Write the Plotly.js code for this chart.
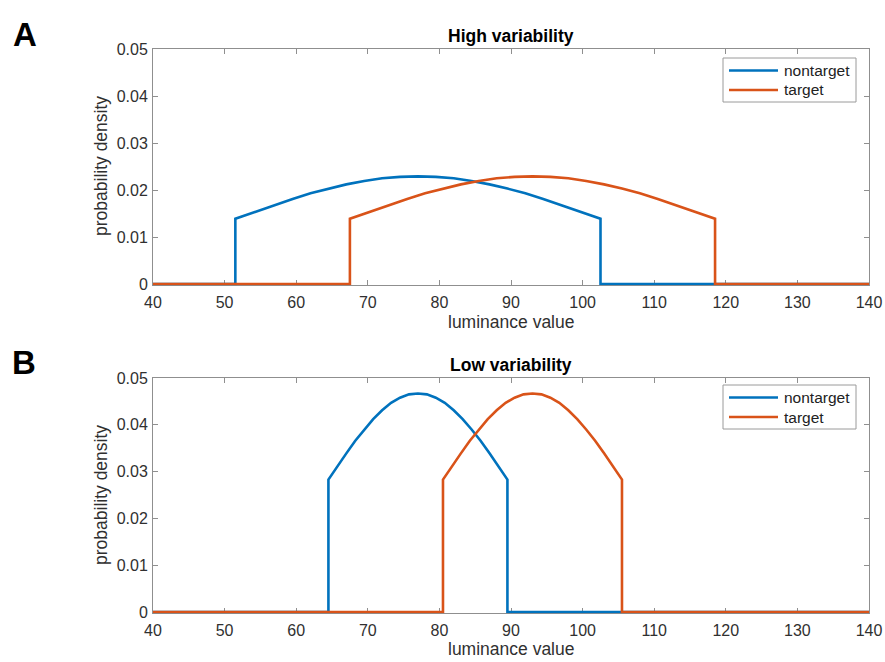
<!DOCTYPE html>
<html>
<head>
<meta charset="utf-8">
<script src="https://cdn.plot.ly/plotly-3.0.1.min.js"></script>
<style>html,body{margin:0;padding:0;background:#fff;}#chart{width:885px;height:662px;}</style>
</head>
<body>
<div id="chart"></div>
<script>
// Panel A: High variability
const hiNontargetX = [40, 51.5, 51.5, 54.5, 57, 59.5, 62, 64.5, 67, 69.5, 72, 74.5, 77, 79.5, 82, 84.5, 87, 89.5, 92, 94.5, 97, 99.5, 102.5, 102.5, 140];
const hiNontargetY = [0, 0, 0.0139, 0.0155, 0.0168, 0.0181, 0.0193, 0.0203, 0.0212, 0.0219, 0.0225, 0.0228, 0.0229, 0.0228, 0.0225, 0.0219, 0.0212, 0.0203, 0.0193, 0.0181, 0.0168, 0.0155, 0.0139, 0, 0];
const hiTargetX = [40, 67.5, 67.5, 70.5, 73, 75.5, 78, 80.5, 83, 85.5, 88, 90.5, 93, 95.5, 98, 100.5, 103, 105.5, 108, 110.5, 113, 115.5, 118.5, 118.5, 140];
const hiTargetY = [0, 0, 0.0139, 0.0155, 0.0168, 0.0181, 0.0193, 0.0203, 0.0212, 0.0219, 0.0225, 0.0228, 0.0229, 0.0228, 0.0225, 0.0219, 0.0212, 0.0203, 0.0193, 0.0181, 0.0168, 0.0155, 0.0139, 0, 0];
// Panel B: Low variability
const loNontargetX = [40, 64.5, 64.5, 65.75, 67, 68.25, 69.5, 70.75, 72, 73.25, 74.5, 75.75, 77, 78.25, 79.5, 80.75, 82, 83.25, 84.5, 85.75, 87, 88.25, 89.5, 89.5, 140];
const loNontargetY = [0, 0, 0.0283, 0.0312, 0.0339, 0.0366, 0.0390, 0.0412, 0.0431, 0.0447, 0.0458, 0.0465, 0.0467, 0.0465, 0.0458, 0.0447, 0.0431, 0.0412, 0.0390, 0.0366, 0.0339, 0.0312, 0.0283, 0, 0];
const loTargetX = [40, 80.5, 80.5, 81.75, 83, 84.25, 85.5, 86.75, 88, 89.25, 90.5, 91.75, 93, 94.25, 95.5, 96.75, 98, 99.25, 100.5, 101.75, 103, 104.25, 105.5, 105.5, 140];
const loTargetY = [0, 0, 0.0283, 0.0312, 0.0339, 0.0366, 0.0390, 0.0412, 0.0431, 0.0447, 0.0458, 0.0465, 0.0467, 0.0465, 0.0458, 0.0447, 0.0431, 0.0412, 0.0390, 0.0366, 0.0339, 0.0312, 0.0283, 0, 0];

const seriesNames = ['nontarget', 'target'];
const panelTitles = ['High variability', 'Low variability'];
const panelLetters = ['A', 'B'];
const xTickVals = [40, 50, 60, 70, 80, 90, 100, 110, 120, 130, 140];
const yTickVals = [0, 0.01, 0.02, 0.03, 0.04, 0.05];
const yTickText = ['0', '0.01', '0.02', '0.03', '0.04', '0.05'];
const xTitle = 'luminance value';
const yTitle = 'probability density';

const BLUE = '#0072BD', ORANGE = '#D95319';
const COLORS = [BLUE, ORANGE];
const FONT = 'Liberation Sans, Arial, sans-serif';
const W = 885, H = 662;
const px = v => v / W;
const py = v => 1 - v / H;

const traces = [
  {x: hiNontargetX, y: hiNontargetY, name: seriesNames[0], xaxis: 'x', yaxis: 'y', line: {color: BLUE, width: 2.6}},
  {x: hiTargetX, y: hiTargetY, name: seriesNames[1], xaxis: 'x', yaxis: 'y', line: {color: ORANGE, width: 2.6}},
  {x: loNontargetX, y: loNontargetY, name: seriesNames[0], xaxis: 'x2', yaxis: 'y2', line: {color: BLUE, width: 2.6}},
  {x: loTargetX, y: loTargetY, name: seriesNames[1], xaxis: 'x2', yaxis: 'y2', line: {color: ORANGE, width: 2.6}}
].map(t => Object.assign({type: 'scatter', mode: 'lines', showlegend: false}, t));

const axCommon = {
  showline: true, linecolor: '#8f8f8f', linewidth: 1, mirror: 'ticks',
  ticks: 'inside', ticklen: 5, tickcolor: '#8f8f8f', tickwidth: 1,
  showgrid: false, zeroline: false, automargin: false,
  tickfont: {family: FONT, size: 16, color: '#303030'}, layer: 'below traces'
};
const xAx = (dom, anchor) => Object.assign({}, axCommon, {domain: dom, anchor: anchor, range: [40, 140], tickvals: xTickVals, ticklabelstandoff: 3});
const yAx = (dom, anchor) => Object.assign({}, axCommon, {domain: dom, anchor: anchor, range: [-0.00025, 0.05], tickvals: yTickVals, ticktext: yTickText, ticklabelstandoff: 1});

const xDom = [px(153), px(869)];
const yDomA = [py(285.2), py(49)];
const yDomB = [py(613.2), py(378)];

const ann = [];
const shapes = [];
const txt = (t, x, y, size, bold, extra) => ann.push(Object.assign({
  text: bold ? '<b>' + t + '</b>' : t, x: x, y: y, xref: 'paper', yref: 'paper',
  showarrow: false, xanchor: 'center', yanchor: 'middle',
  font: {family: FONT, size: size, color: bold ? '#000' : '#303030'}
}, extra || {}));
txt(panelLetters[0], px(25), py(34), 33, true);
txt(panelLetters[1], px(24), py(362), 33, true);
txt(panelTitles[0], px(511), py(36), 17.5, true);
txt(panelTitles[1], px(511), py(365), 17.5, true);
txt(xTitle, px(511), py(322), 17.5, false);
txt(xTitle, px(511), py(649), 17.5, false);
txt(yTitle, px(101), py(166), 17.5, false, {textangle: -90});
txt(yTitle, px(101), py(495), 17.5, false, {textangle: -90});

// legend boxes (drawn like MATLAB legends)
function legendBox(top) {
  shapes.push({type: 'rect', xref: 'paper', yref: 'paper', x0: px(723), x1: px(856), y0: py(top), y1: py(top + 44),
    line: {color: '#9a9a9a', width: 1}, fillcolor: '#fff', layer: 'above'});
  seriesNames.forEach((n, i) => {
    const yy = top + 12.5 + i * 19.5;
    shapes.push({type: 'line', xref: 'paper', yref: 'paper', x0: px(729), x1: px(778), y0: py(yy), y1: py(yy),
      line: {color: COLORS[i], width: 2.6}, layer: 'above'});
    txt(n, px(782), py(yy), 15.5, false, {xanchor: 'left', font: {family: FONT, size: 15.5, color: '#222'}});
  });
}
legendBox(58);
legendBox(385);

const layout = {
  width: W, height: H, margin: {l: 0, r: 0, t: 0, b: 0},
  paper_bgcolor: '#fff', plot_bgcolor: '#fff', showlegend: false,
  xaxis: xAx(xDom, 'y'), yaxis: yAx(yDomA, 'x'),
  xaxis2: xAx(xDom, 'y2'), yaxis2: yAx(yDomB, 'x2'),
  annotations: ann, shapes: shapes
};

Plotly.newPlot('chart', traces, layout, {displayModeBar: false, staticPlot: true});
</script>
</body>
</html>
